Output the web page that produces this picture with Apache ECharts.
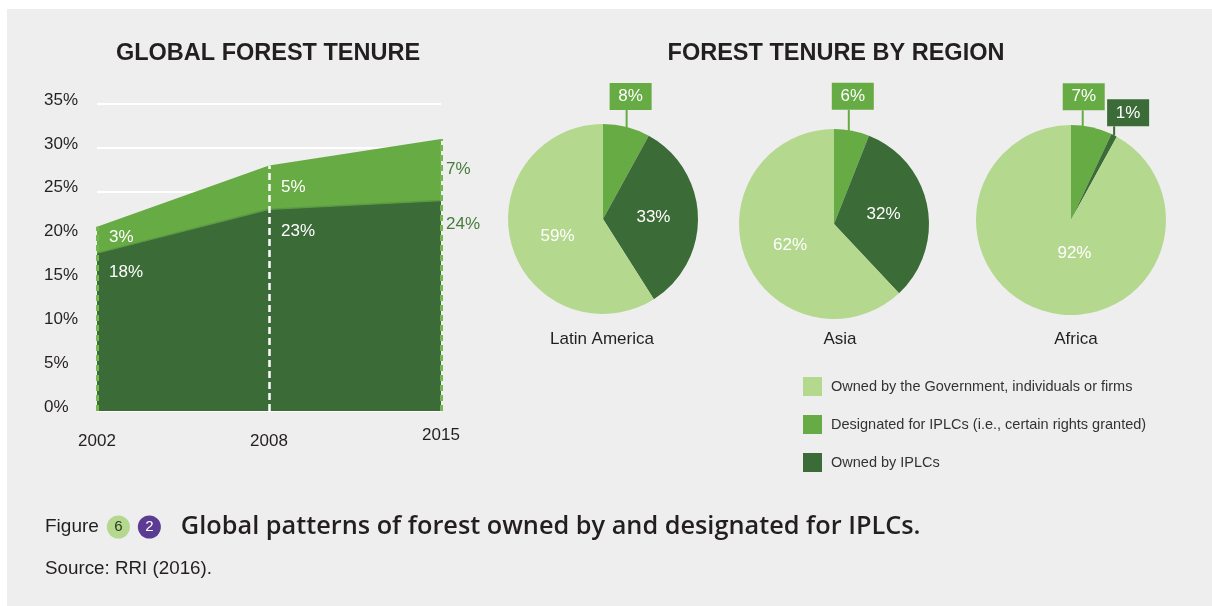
<!DOCTYPE html>
<html>
<head>
<meta charset="utf-8">
<script src="https://cdn.jsdelivr.net/npm/echarts@6/dist/echarts.min.js"></script>
<style>
  html, body { margin: 0; padding: 0; background: #fff; }
  #chart {
    width: 1212px; height: 606px;
    background-color: #eeeeee;
    background-image: linear-gradient(#fff, #fff), linear-gradient(#fff, #fff);
    background-size: 7px 100%, 100% 9px;
    background-repeat: no-repeat;
  }
</style>
</head>
<body>
<div id="chart"></div>
<script>
// global forest tenure (area chart)
const years = ['2002', '2008', '2015'];
const ownedByIPLCs = [18, 23, 24];
const designatedForIPLCs = [3, 5, 7];

// forest tenure by region (pies)
const regions = ['Latin America', 'Asia', 'Africa'];
const tenureNames = [
  'Owned by the Government, individuals or firms',
  'Designated for IPLCs (i.e., certain rights granted)',
  'Owned by IPLCs'
];
const regionGovernment = [59, 62, 92];
const regionDesignated = [8, 6, 7];
const regionOwned = [33, 32, 1];

const LIGHT = '#b5d88f';
const MID = '#67ab44';
const DARK = '#3b6b36';
const EDGE_TEXT = '#477b3b';
const FONT = '"Liberation Sans", Arial, Helvetica, sans-serif';

const chart = echarts.init(document.getElementById('chart'));

// label placement for the area labels (per year)
const darkLabelPos = [{ d: 12, o: [0, 19] }, { d: 12, o: [0, 22] }, { d: 5, o: [0, 24] }];
const midLabelPos = [{ d: 12, o: [0, 11] }, { d: 12, o: [0, 22] }, { d: 5, o: [0, 30] }];

const edgeDash = { color: '#74b64f', type: [6, 4], width: 3 };
const midDash = { color: '#ffffff', type: [7, 4], width: 2.5 };

const pieCenters = [[603, 219], [834, 224], [1071, 220]];
// leader length and horizontal shift of the boxed labels, per region
const boxLeader = [{ len: 17, dx: 4, lx: 0 }, { len: 21, dx: 1, lx: -3 }, { len: 17, dx: -8, lx: -9 }];

function boxLabel(color) {
  return {
    position: 'outside',
    backgroundColor: color,
    color: '#fff',
    fontSize: 17,
    lineHeight: 17,
    width: 42,
    align: 'center',
    padding: [5, 0, 5, 0]
  };
}

const pieSeries = regions.map((r, i) => {
  const isAfrica = i === 2;
  return {
    type: 'pie',
    name: r,
    radius: 95,
    center: pieCenters[i],
    startAngle: 90,
    clockwise: true,
    silent: true,
    avoidLabelOverlap: false,
    label: { position: 'inside', color: '#fff', fontSize: 17, formatter: '{c}%', fontFamily: FONT },
    labelLine: { show: false },
    emphasis: { disabled: true },
    data: [
      {
        name: tenureNames[1], value: regionDesignated[i],
        itemStyle: { color: MID },
        label: boxLabel(MID),
        labelLine: { show: true, length: 17, length2: 0, lineStyle: { color: MID, width: 2 } }
      },
      {
        name: tenureNames[2], value: regionOwned[i],
        itemStyle: { color: DARK },
        label: isAfrica ? boxLabel(DARK) : {},
        labelLine: isAfrica ? { show: true, length: 9, length2: 0, lineStyle: { color: DARK, width: 2 } } : { show: false }
      },
      {
        name: tenureNames[0], value: regionGovernment[i],
        itemStyle: { color: LIGHT },
        label: isAfrica ? { offset: [16, -16] } : { offset: [3, 3] }
      }
    ],
    labelLayout: function (p) {
      const outside = p.dataIndex === 0 || (isAfrica && p.dataIndex === 1);
      if (!outside || !p.labelLinePoints) return {};
      const a = p.labelLinePoints[0];
      if (p.dataIndex === 1) {
        const t = [a[0], a[1] - 9];
        return { x: t[0] + 14, y: t[1], align: 'center', verticalAlign: 'bottom', labelLinePoints: [a, t, t] };
      }
      const b = boxLeader[i];
      const s = [a[0] + b.lx, a[1] + Math.abs(b.lx) * 0.1];
      const t = [s[0], a[1] - b.len];
      return { x: a[0] + b.dx, y: t[1], align: 'center', verticalAlign: 'bottom', labelLinePoints: [s, t, t] };
    }
  };
});

const option = {
  animation: false,
  backgroundColor: 'transparent',
  textStyle: { fontFamily: FONT },
  title: [
    {
      text: 'GLOBAL FOREST TENURE', left: 268, top: 54, padding: 0,
      textAlign: 'center', textVerticalAlign: 'middle',
      textStyle: { fontSize: 23.5, fontWeight: 'bold', color: '#231f20', fontFamily: FONT }
    },
    {
      text: 'FOREST TENURE BY REGION', left: 836, top: 54, padding: 0,
      textAlign: 'center', textVerticalAlign: 'middle',
      textStyle: { fontSize: 23.5, fontWeight: 'bold', color: '#231f20', fontFamily: FONT }
    },
    ...regions.map((r, i) => ({
      text: r, left: [602, 840, 1076][i], top: 339, padding: 0,
      textAlign: 'center', textVerticalAlign: 'middle',
      textStyle: { fontSize: 17, fontWeight: 'normal', color: '#231f20', fontFamily: FONT }
    })),
    {
      text: '{f|Figure}{s| }{g|6}{s| }{p|2}{w| }{m|Global patterns of forest owned by and designated for IPLCs.}',
      left: 45, top: 527, padding: 0, textVerticalAlign: 'middle',
      textStyle: {
        fontWeight: 'normal',
        rich: {
          f: { fontSize: 19, fontWeight: 'normal', color: '#231f20', fontFamily: FONT },
          s: { width: 8, fontSize: 10 },
          w: { width: 20, fontSize: 10 },
          g: { backgroundColor: LIGHT, color: '#2b3a22', width: 23, height: 23, lineHeight: 23,
               align: 'center', borderRadius: 12, fontSize: 15, fontWeight: 'normal', fontFamily: FONT },
          p: { backgroundColor: '#5c3b93', color: '#fff', width: 23, height: 23, lineHeight: 23,
               align: 'center', borderRadius: 12, fontSize: 15, fontWeight: 'normal', fontFamily: FONT },
          m: { fontSize: 25.3, fontWeight: 600, color: '#231f20', fontFamily: '"Open Sans", ' + FONT }
        }
      }
    },
    {
      text: 'Source: RRI (2016).', left: 45, top: 569, padding: 0, textVerticalAlign: 'middle',
      textStyle: { fontSize: 18.8, fontWeight: 'normal', color: '#231f20', fontFamily: FONT }
    }
  ],
  legend: {
    orient: 'vertical', left: 803, top: 377, padding: 0,
    itemWidth: 19, itemHeight: 19, itemGap: 19, icon: 'rect',
    selectedMode: false,
    data: tenureNames,
    textStyle: { fontSize: 14.5, color: '#333', padding: [0, 0, 0, 4], fontFamily: FONT }
  },
  grid: { left: 97, right: 771, top: 104, bottom: 195 },
  xAxis: {
    type: 'category', data: years, boundaryGap: false,
    axisLine: { show: false }, axisTick: { show: false },
    axisLabel: {
      margin: 22, fontSize: 17, color: '#231f20',
      formatter: v => (v === '2015' ? '{hi|' + v + '}' : v),
      rich: { hi: { fontSize: 17, color: '#231f20', lineHeight: 5 } }
    },
    splitLine: { show: false }
  },
  yAxis: {
    type: 'value', min: 0, max: 35, interval: 5,
    axisLine: { show: false }, axisTick: { show: false },
    axisLabel: {
      formatter: '{value}%', align: 'left', margin: 53, fontSize: 17, color: '#231f20',
      verticalAlign: 'bottom', lineHeight: 8
    },
    splitLine: { lineStyle: { color: '#ffffff', width: 2 } }
  },
  series: [
    {
      name: 'IPLC owned (global)', type: 'line', stack: 'global',
      symbol: 'circle', symbolSize: 0, silent: true,
      lineStyle: { color: '#5b9a44', width: 1.5 },
      areaStyle: { color: DARK, opacity: 1 },
      itemStyle: { color: DARK },
      label: { show: true, position: 'right', formatter: '{c}%', fontSize: 17, color: '#fff' },
      data: ownedByIPLCs.map((v, j) => ({
        value: v,
        label: { distance: darkLabelPos[j].d, offset: darkLabelPos[j].o, color: j === 2 ? EDGE_TEXT : '#fff' }
      }))
    },
    {
      name: 'IPLC designated (global)', type: 'line', stack: 'global',
      symbol: 'circle', symbolSize: 0, silent: true,
      lineStyle: { width: 0 },
      areaStyle: { color: MID, opacity: 1 },
      itemStyle: { color: MID },
      label: { show: true, position: 'right', formatter: '{c}%', fontSize: 17, color: '#fff' },
      data: designatedForIPLCs.map((v, j) => ({
        value: v,
        label: { distance: midLabelPos[j].d, offset: midLabelPos[j].o, color: j === 2 ? EDGE_TEXT : '#fff' }
      })),
      markLine: {
        silent: true, symbol: ['none', 'none'], label: { show: false },
        data: years.map((y, j) => [
          { coord: [y, 0], lineStyle: j === 1 ? midDash : edgeDash },
          { coord: [y, ownedByIPLCs[j] + designatedForIPLCs[j]] }
        ])
      }
    },
    ...pieSeries
  ]
};

chart.setOption(option);
</script>
</body>
</html>
